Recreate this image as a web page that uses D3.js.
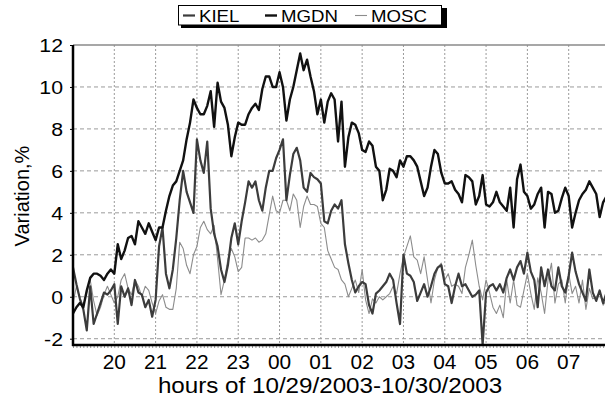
<!DOCTYPE html>
<html>
<head>
<meta charset="utf-8">
<script src="https://cdn.jsdelivr.net/npm/d3@7"></script>
<style>
  body { margin: 0; background: #fff; }
  svg { display: block; font-family: "Liberation Sans", Arial, sans-serif; }
</style>
</head>
<body>
<div id="chart"></div>
<script>
// 5 min samples starting at 19:00 on 10/29/2003
const stepMin = 5;

const mgdn = [
  -0.8,-0.5,-0.3,-0.5,0.3,0.9,1.1,1.1,1.0,0.8,1.1,1.3,
  1.1,2.5,1.8,2.2,2.8,2.9,2.5,3.6,3.3,3.0,3.5,3.1,
  2.7,3.3,3.3,4.1,4.8,5.3,5.5,6.0,6.5,7.5,8.3,9.4,
  9.0,8.7,8.7,9.1,9.8,8.1,10.2,9.3,9.0,8.2,6.7,7.6,
  8.3,8.2,8.2,8.7,9.0,9.2,8.9,9.9,10.5,10.5,10.0,10.0,
  10.7,10.0,8.4,9.4,10.0,10.8,11.6,10.8,11.3,10.5,9.8,8.7,
  9.4,8.3,9.3,9.7,9.4,7.4,9.3,6.2,7.6,8.3,8.2,7.8,
  7.0,6.9,7.4,7.2,6.2,6.0,4.6,5.1,6.1,6.0,5.7,6.5,
  6.2,6.7,6.7,6.5,6.2,5.5,4.8,5.2,6.2,7.0,6.8,5.9,
  5.4,5.4,5.5,5.1,4.9,4.5,5.8,5.7,5.5,4.4,4.8,5.8,
  4.4,4.3,4.5,5.0,4.5,4.3,4.1,5.2,3.3,5.6,6.3,5.0,
  4.8,4.2,4.4,4.9,5.2,3.3,5.0,4.9,4.0,4.1,4.7,5.2,
  4.8,3.3,4.0,4.6,4.9,5.1,5.5,5.2,4.9,3.8,4.5,4.8,
  4.6
];

const kiel = [
  1.4,0.6,-0.1,-0.6,-1.6,0.5,-1.3,-0.8,-0.3,0.2,0.1,0.3,
  0.6,-1.3,0.5,0.0,0.4,-0.4,0.8,0.2,0.1,-0.5,-0.15,-0.95,
  -0.15,2.4,3.3,1.1,0.4,1.3,2.8,4.6,6.0,5.0,4.5,4.0,
  7.5,6.5,5.9,7.4,4.2,3.0,2.4,1.3,0.7,1.5,2.8,3.5,
  2.5,3.6,4.5,5.5,5.2,5.5,4.6,4.1,5.2,6.0,6.0,6.6,
  7.0,7.5,4.6,5.8,6.8,7.1,6.5,5.2,5.0,5.9,5.7,5.6,
  5.4,3.6,3.5,4.1,4.4,4.2,4.6,2.5,1.6,0.8,0.2,0.5,
  0.7,0.6,-0.4,-0.8,0.15,0.3,0.5,0.7,1.1,0.8,-0.3,-1.3,
  2.0,1.1,1.0,0.7,-0.2,0.2,0.6,0.0,0.5,1.1,1.4,1.5,
  0.6,0.5,-0.3,0.5,1.1,0.5,0.6,0.3,0.0,0.1,0.3,-2.3,
  0.2,0.5,0.6,0.3,0.6,0.2,0.9,1.3,0.8,1.4,1.7,1.1,
  2.1,1.2,0.8,-0.5,1.4,0.5,1.3,0.5,0.3,1.4,0.5,0.2,
  1.0,2.1,1.2,0.6,0.2,-0.2,1.3,0.2,-0.2,0.3,-0.3,0.2,
  0.0
];

const mosc = [
  -0.3,0.5,-0.1,-0.4,0.2,0.8,-0.2,-0.9,-0.5,0.1,0.5,0.1,
  -0.3,0.0,0.8,1.1,0.4,0.1,0.8,0.5,0.0,0.5,0.3,-0.3,
  -0.8,-0.2,0.1,-0.5,-0.6,-0.6,0.4,2.6,2.3,1.5,1.1,2.0,
  2.4,3.3,3.6,3.2,3.0,3.4,1.8,0.1,0.8,1.8,2.3,1.9,
  1.2,1.4,2.8,2.8,2.7,2.8,2.6,2.7,3.0,3.9,4.8,4.1,
  4.0,4.6,4.6,4.1,4.9,4.6,3.3,4.3,4.8,4.4,4.4,4.3,
  3.5,3.3,2.2,1.8,1.4,1.3,0.8,0.6,0.0,0.4,0.8,0.2,
  1.3,-0.15,-0.8,-0.1,-0.3,0.0,-0.15,0.0,0.15,0.5,0.15,1.1,
  1.9,2.4,2.9,1.9,1.75,1.1,1.9,0.8,-0.3,0.8,1.4,1.6,
  0.8,1.1,0.5,0.6,0.5,0.15,1.4,2.0,2.7,1.5,0.5,-0.15,
  0.8,0.2,-0.5,-0.8,-0.4,-1.0,0.8,-0.3,0.8,-0.4,-0.5,0.3,
  1.1,0.15,-0.6,0.9,0.2,-0.8,0.8,1.6,-0.3,0.6,0.8,-0.3,
  1.1,0.15,0.5,-0.3,0.8,-0.6,0.4,-0.1,0.0,0.2,-0.4,-0.15,
  -0.3
];

const hourLabels = ["20","21","22","23","00","01","02","03","04","05","06","07"];
const yTicks = [-2,0,2,4,6,8,10,12];

const series = [
  {name: "MOSC", vals: mosc, color: "#8c8c8c", width: 1.1},
  {name: "KIEL", vals: kiel, color: "#3c3c3c", width: 2.2},
  {name: "MGDN", vals: mgdn, color: "#111111", width: 2.4}
];
const legendOrder = ["KIEL","MGDN","MOSC"];

const W = 605, H = 399;
const margin = {left: 73, top: 45, bottom: 54};
const plotRight = 610;   // plot runs slightly past the picture edge

let svg = d3.select("#chart").append("svg")
  .attr("width", W)
  .attr("height", H);

let x = d3.scaleLinear().domain([0, 780]).range([margin.left, plotRight]);
let y = d3.scaleLinear().domain([-2.3, 12]).range([H - margin.bottom, margin.top]);

//grid
svg.append("g").selectAll("line.hgrid")
  .data(yTicks.filter(function(d){ return d < 12; }))
  .enter().append("line")
  .attr("x1", margin.left).attr("x2", plotRight)
  .attr("y1", function(d){ return y(d); })
  .attr("y2", function(d){ return y(d); })
  .style("stroke", "#9a9a9a")
  .style("stroke-width", 1)
  .style("stroke-dasharray", "4,3");

svg.append("g").selectAll("line.vgrid")
  .data(hourLabels)
  .enter().append("line")
  .attr("x1", function(d, i){ return x((i + 1) * 60); })
  .attr("x2", function(d, i){ return x((i + 1) * 60); })
  .attr("y1", y(12)).attr("y2", y(-2.3))
  .style("stroke", "#9a9a9a")
  .style("stroke-width", 1)
  .style("stroke-dasharray", "2,2");

//top frame
svg.append("line")
  .attr("x1", margin.left).attr("x2", plotRight)
  .attr("y1", y(12)).attr("y2", y(12))
  .style("stroke", "#8a8a8a")
  .style("stroke-width", 1.5);

//lines
let line = d3.line()
  .x(function(d, i){ return x(i * stepMin); })
  .y(function(d){ return y(d); });

svg.append("g").selectAll("path.series")
  .data(series)
  .enter().append("path")
  .attr("class", "series")
  .attr("d", function(d){ return line(d.vals); })
  .style("fill", "none")
  .style("stroke", function(d){ return d.color; })
  .style("stroke-width", function(d){ return d.width; })
  .style("stroke-linejoin", "round");

//x axis: minor ticks every 5 min, labels on the hours
let xAxis = d3.axisBottom(x)
  .tickValues(d3.range(0, 781, 5))
  .tickSize(3)
  .tickFormat("");
svg.append("g")
  .attr("transform", "translate(0," + y(-2.3) + ")")
  .call(xAxis)
  .call(function(g){
    g.select(".domain").remove();
    g.selectAll(".tick line").style("stroke", "#777").style("stroke-width", 0.8);
  });

//the source font is drawn a little wide, so labels get a small x stretch
svg.append("g").selectAll("text.xlab")
  .data(hourLabels)
  .enter().append("text")
  .attr("transform", function(d, i){
    return "translate(" + x((i + 1) * 60) + ",369) scale(1.07,1)";
  })
  .attr("text-anchor", "middle")
  .style("font-size", "19.5px")
  .text(function(d){ return d; });

//y axis
let yAxis = d3.axisLeft(y).tickValues(yTicks).tickSize(3).tickFormat("");
svg.append("g")
  .attr("transform", "translate(" + margin.left + ",0)")
  .call(yAxis)
  .call(function(g){
    g.select(".domain").remove();
    g.selectAll(".tick line").style("stroke", "#000");
  });

svg.append("g").selectAll("text.ylab")
  .data(yTicks)
  .enter().append("text")
  .attr("transform", function(d){
    return "translate(63," + (y(d) + 7) + ") scale(1.12,1)";
  })
  .attr("text-anchor", "end")
  .style("font-size", "19px")
  .text(function(d){ return d === -2 ? "-2" : d; });

//axis lines
svg.append("line")
  .attr("x1", margin.left).attr("x2", margin.left)
  .attr("y1", y(12)).attr("y2", y(-2.3) + 1)
  .style("stroke", "#000").style("stroke-width", 2.5);
svg.append("line")
  .attr("x1", margin.left - 1).attr("x2", plotRight)
  .attr("y1", y(-2.3)).attr("y2", y(-2.3))
  .style("stroke", "#000").style("stroke-width", 2.5);

//titles
svg.append("text")
  .attr("transform", "translate(29,196) rotate(-90)")
  .attr("text-anchor", "middle")
  .style("font-size", "20px")
  .text("Variation,%");

svg.append("text")
  .attr("transform", "translate(330,393) scale(1.1,1)")
  .attr("text-anchor", "middle")
  .style("font-size", "22px")
  .text("hours of 10/29/2003-10/30/2003");

//legend box with shadow
let lg = svg.append("g").attr("class", "legend");
lg.append("rect")
  .attr("x", 181).attr("y", 8).attr("width", 266).attr("height", 20)
  .style("fill", "#000");
lg.append("rect")
  .attr("x", 178.5).attr("y", 5.5).attr("width", 263).attr("height", 19.5)
  .style("fill", "#fff").style("stroke", "#000").style("stroke-width", 1);

let legendX = [183, 265, 355];
legendOrder.forEach(function(name, i){
  let s = series.find(function(d){ return d.name === name; });
  lg.append("line")
    .attr("x1", legendX[i]).attr("x2", legendX[i] + 12)
    .attr("y1", 15.5).attr("y2", 15.5)
    .style("stroke", s.color)
    .style("stroke-width", s.width);
  lg.append("text")
    .attr("transform", "translate(" + (legendX[i] + 16) + ",21.5) scale(1.13,1)")
    .style("font-size", "16.5px")
    .text(name);
});
</script>
</body>
</html>
